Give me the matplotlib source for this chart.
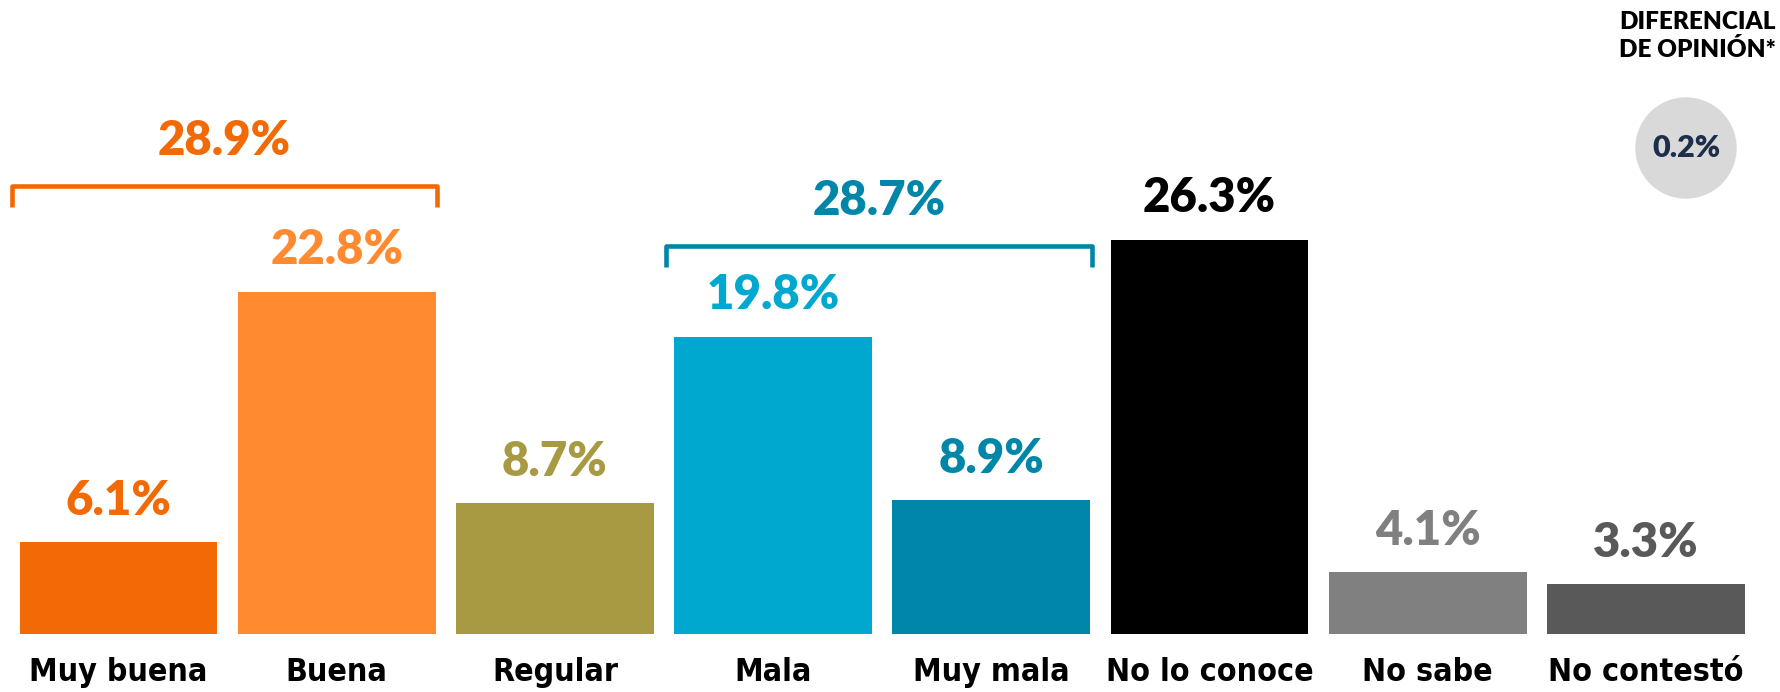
import matplotlib.pyplot as plt
from matplotlib.patches import Circle
import numpy as np

# Data
categories = ['Muy buena', 'Buena', 'Regular', 'Mala', 'Muy mala',
              'No lo conoce', 'No sabe', 'No contestó']
values = [6.1, 22.8, 8.7, 19.8, 8.9, 26.3, 4.1, 3.3]
bar_colors = ['#f26a05', '#ff8a30', '#a89a42', '#00a8cf', '#0086a8',
              '#000000', '#808080', '#595959']

# grouped totals (positive / negative)
group_idx = [(0, 1), (3, 4)]
group_totals = [28.9, 28.7]
group_colors = ['#f26a05', '#0086a8']
group_offsets = [7.1, 6.1]   # bracket height above tallest bar of group

diferencial = '0.2%'

label_font = 'Lato'

fig = plt.figure(figsize=(17.81, 6.92), dpi=100)
ax = fig.add_axes([0, 0, 1, 1])

x = np.arange(len(categories))
bars = ax.bar(x, values, width=0.907, color=bar_colors)

ax.set_xlim(-0.543, 7.619)
ax.set_ylim(-3.87, 42.27)
ax.axis('off')

# value labels
for xi, v, c in zip(x, values, bar_colors):
    ax.annotate(f'{v}%', xy=(xi, v), xytext=(0, 30), textcoords='offset points',
                ha='center', va='center', fontsize=34, fontweight='heavy',
                color=c, family=label_font)

# category labels
for xi, cat in zip(x, categories):
    ax.annotate(cat, xy=(xi, 0), xytext=(0, -28), textcoords='offset points',
                ha='center', va='center', fontsize=23, fontweight='bold',
                fontstretch='condensed', color='black', family='DejaVu Sans')

# brackets with totals
for (a, b), tot, c, off in zip(group_idx, group_totals, group_colors, group_offsets):
    top = max(values[a], values[b]) + off
    left = a - 0.49
    right = b + 0.46
    leg = 1.4
    ax.plot([left, left, right, right], [top - leg, top, top, top - leg],
            color=c, lw=3.3, solid_joinstyle='round', solid_capstyle='butt')
    ax.annotate(f'{tot}%', xy=((left + right) / 2, top), xytext=(0, 32),
                textcoords='offset points', ha='center', va='center',
                fontsize=34, fontweight='heavy', color=c, family=label_font)

# diferencial de opinion
fig.text(0.997, 0.948, 'DIFERENCIAL\nDE OPINIÓN*', ha='right', va='center',
         fontsize=17.5, fontweight='heavy', color='black', family=label_font,
         linespacing=1.25)
circ = Circle((1686, 692 - 148), 50, transform=None, color='#d9d9d9')
fig.patches.append(circ)
fig.text(1686 / 1781, 1 - 148 / 692, diferencial, ha='center', va='center',
         fontsize=22, fontweight='heavy', color='#1c2e4a', family=label_font)

plt.savefig('out.png', dpi=100)
